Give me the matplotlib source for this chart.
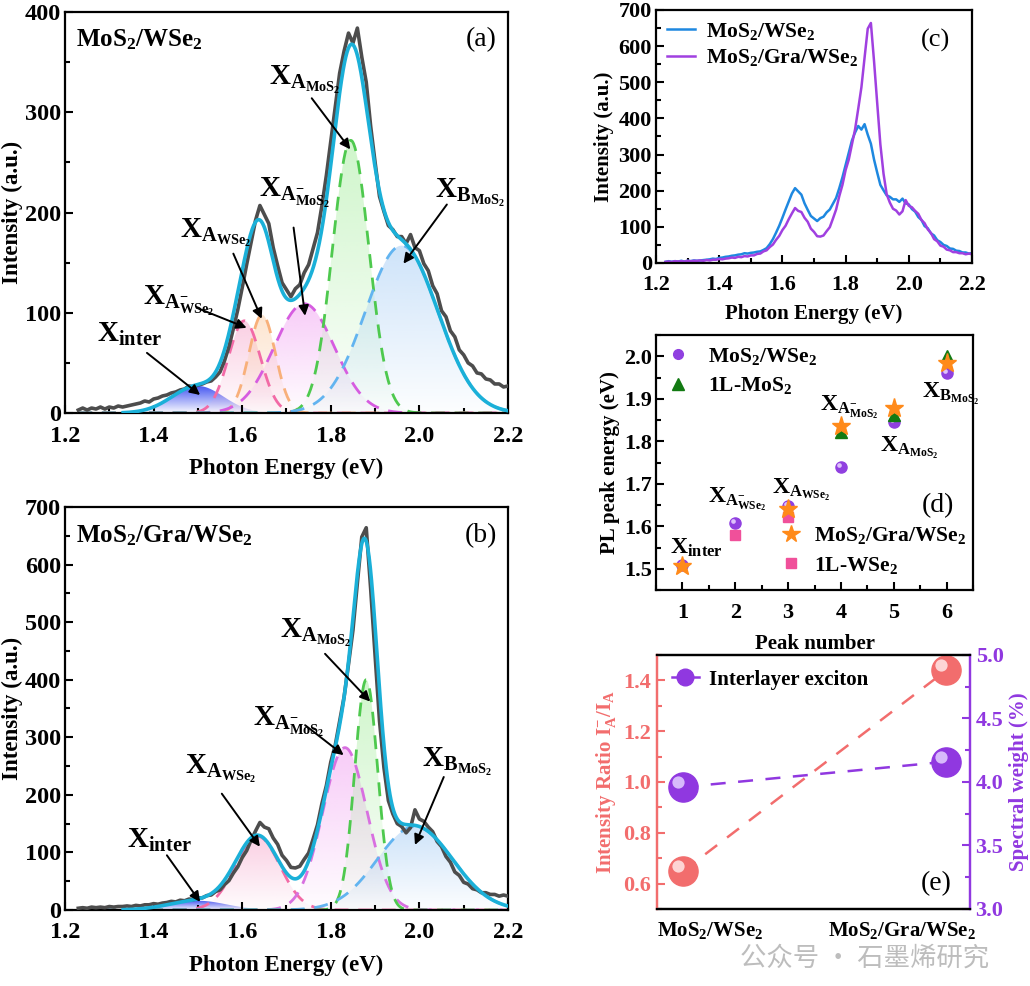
import numpy as np
import matplotlib
matplotlib.use("Agg")
import matplotlib.pyplot as plt
import matplotlib.colors as mcolors
from matplotlib.patches import Polygon
from matplotlib.lines import Line2D
from matplotlib.ticker import MultipleLocator
from matplotlib.transforms import offset_copy

plt.rcParams['font.family'] = ['Liberation Serif', 'DejaVu Serif']
plt.rcParams['font.weight'] = 'bold'
plt.rcParams['axes.labelweight'] = 'bold'
plt.rcParams['mathtext.fontset'] = 'custom'
plt.rcParams['mathtext.rm'] = 'Liberation Serif:bold'
plt.rcParams['mathtext.it'] = 'Liberation Serif:bold'
plt.rcParams['mathtext.bf'] = 'Liberation Serif:bold'

# ---- measured PL spectra (eV grid 1.23 .. 2.20, step 0.01) ----
energy = np.round(np.arange(1.23, 2.2001, 0.01), 2)
raw_mos2_wse2 = [3, 5, 3, 5, 4, 6, 4,
                 6, 5, 7, 6, 7, 8, 9, 10, 12, 11,
                 14, 15, 17, 18, 20, 21, 23, 24, 27, 26,
                 28, 29, 31, 32, 36, 41, 52, 66, 84, 103,
                 125, 148, 170, 192, 207, 198, 189, 165, 147, 130,
                 123, 116, 124, 128, 140, 148, 164, 180, 207, 237,
                 271, 305, 339, 361, 379, 369, 384, 355, 330, 286,
                 250, 216, 201, 187, 183, 176, 176, 169, 178, 165,
                 162, 149, 142, 127, 119, 102, 96, 82, 76, 63,
                 58, 50, 47, 40, 39, 34, 33, 29, 29, 26,
                 27]
raw_mos2_gra_wse2 = [3, 4, 3, 5, 4, 5, 4,
                     6, 5, 6, 6, 7, 6, 8, 7, 9, 9,
                     11, 10, 12, 13, 15, 14, 17, 16, 19, 18,
                     21, 21, 25, 26, 32, 35, 44, 51, 64, 75,
                     91, 103, 121, 137, 152, 144, 141, 125, 114, 95,
                     86, 74, 73, 76, 88, 99, 123, 148, 185, 216,
                     257, 286, 328, 370, 427, 486, 568, 648, 664, 558,
                     442, 328, 247, 190, 167, 150, 145, 134, 143, 174,
                     158, 154, 144, 136, 119, 110, 93, 83, 66, 60,
                     48, 45, 37, 35, 30, 30, 27, 27, 24, 26,
                     24]

# ---- fitted peaks: centre (eV), height (a.u.), width sigma (eV) ----
# order (a): X_inter, X_A-_WSe2, X_A_WSe2, X_A-_MoS2, X_A_MoS2, X_B_MoS2
centers_a = [1.50, 1.605, 1.645, 1.74, 1.845, 1.96]
heights_a = [27, 92, 98, 109, 272, 167]
widths_a = [0.058, 0.036, 0.030, 0.068, 0.041, 0.082]
# order (b): X_inter, X_A_WSe2, X_A-_MoS2, X_A_MoS2, X_B_MoS2
centers_b = [1.50, 1.635, 1.832, 1.880, 1.99]
heights_b = [16, 128, 282, 400, 145]
widths_b = [0.065, 0.050, 0.050, 0.026, 0.085]

# ---- (d) PL peak energies ----
peak_no_hetero = [1, 2, 3, 4, 5, 6]
pl_hetero = [1.510, 1.608, 1.648, 1.739, 1.845, 1.960]
peak_no_1l_mos2 = [4, 5, 6]
pl_1l_mos2 = [1.822, 1.862, 2.000]
peak_no_gra = [1, 3, 4, 5, 6]
pl_gra = [1.507, 1.641, 1.835, 1.878, 1.985]
peak_no_1l_wse2 = [2, 3]
pl_1l_wse2 = [1.580, 1.623]

# ---- (e) ratios ----
samples = ['MoS$_2$/WSe$_2$', 'MoS$_2$/Gra/WSe$_2$']
intensity_ratio = [0.65, 1.44]
spectral_weight = [3.96, 4.16]

lab_inter = r'X$_{\mathrm{inter}}$'
lab_am_w = r'X$_{\mathrm{A}^{-}_{\mathrm{WSe}_2}}$'
lab_a_w = r'X$_{\mathrm{A}_{\mathrm{WSe}_2}}$'
lab_am_m = r'X$_{\mathrm{A}^{-}_{\mathrm{MoS}_2}}$'
lab_a_m = r'X$_{\mathrm{A}_{\mathrm{MoS}_2}}$'
lab_b_m = r'X$_{\mathrm{B}_{\mathrm{MoS}_2}}$'


def gauss(x, c, h, w):
    return h * np.exp(-(x - c) ** 2 / (2 * w ** 2))


def style(ax, size=17):
    ax.tick_params(which='both', direction='in', top=False, right=False, width=1.5)
    ax.tick_params(which='major', length=6, labelsize=size)
    ax.tick_params(axis='x', which='major', pad=9)
    ax.tick_params(axis='y', which='major', pad=3)
    ax.tick_params(which='minor', length=3.5)
    for s in ax.spines.values():
        s.set_linewidth(1.6)


def grad_fill(ax, x, y, color, a_top=0.6):
    img = np.zeros((120, 1, 4))
    img[:, :, :3] = mcolors.to_rgb(color)
    img[:, 0, 3] = np.linspace(0.03, a_top, 120)
    im = ax.imshow(img, aspect='auto', origin='lower', interpolation='bilinear',
                   extent=[x.min(), x.max(), 0, y.max()], zorder=1)
    verts = np.column_stack([np.r_[x, x[::-1]], np.r_[y, np.zeros_like(y)]])
    patch = Polygon(verts, closed=True, fc='none', ec='none', transform=ax.transData)
    ax.add_patch(patch)
    im.set_clip_path(patch)


def sphere(ax, x, y, base, light, ms, z=5):
    ax.plot(x, y, ls='none', marker='o', ms=ms, mfc=base, mec=base, zorder=z)
    tr = offset_copy(ax.transData, fig=ax.figure, x=-ms * 0.17, y=ms * 0.17, units='points')
    ax.plot(x, y, ls='none', marker='o', ms=ms * 0.42, mfc=light, mec='none',
            alpha=0.9, transform=tr, zorder=z + 0.1)


def arrow(ax, tail, tip):
    ax.annotate('', xy=tip, xytext=tail,
                arrowprops=dict(arrowstyle='-|>', color='k', lw=1.4,
                                mutation_scale=15, shrinkA=0, shrinkB=0), zorder=6)


def spectrum_panel(ax, raw, centers, heights, widths, fills, lines, ymax, title, tag):
    xf = np.linspace(1.23, 2.2, 700)
    total = np.zeros_like(xf)
    for c, h, w, fc, lc in zip(centers, heights, widths, fills, lines):
        yc = gauss(xf, c, h, w)
        total += yc
        grad_fill(ax, xf, yc, fc, a_top=1.0 if lc is None else 0.55)
        if lc is not None:
            ax.plot(xf, yc, color=lc, lw=2, dashes=(5, 3.5), zorder=2)
    ax.plot(energy, raw, color='#4d4d4d', lw=2.6, zorder=3)
    m = xf >= 1.33
    ax.plot(xf[m], total[m], color='#1bb0d8', lw=2.6, zorder=4)
    ax.set_xlim(1.2, 2.2)
    ax.set_ylim(0, ymax)
    ax.xaxis.set_major_locator(MultipleLocator(0.2))
    ax.xaxis.set_minor_locator(MultipleLocator(0.1))
    ax.yaxis.set_major_locator(MultipleLocator(100))
    ax.yaxis.set_minor_locator(MultipleLocator(50))
    ax.xaxis.set_major_formatter(plt.FormatStrFormatter('%.1f'))
    ax.set_xlabel('Photon Energy (eV)', fontsize=16.5, labelpad=8)
    ax.set_ylabel('Intensity (a.u.)', fontsize=16.5, labelpad=1)
    ax.text(0.025, 0.93, title, transform=ax.transAxes, fontsize=18, va='center')
    ax.text(0.975, 0.93, tag, transform=ax.transAxes, fontsize=20, va='center',
            ha='right', fontweight='normal')
    style(ax, 17.5)


fig = plt.figure(figsize=(10.3, 9.86), dpi=100)

# ---------- (a) ----------
ax_a = fig.add_axes([0.0631, 0.5811, 0.4301, 0.4067])
spectrum_panel(ax_a, raw_mos2_wse2, centers_a, heights_a, widths_a,
               ['#4052f2', '#f7a8cc', '#fbcfa8', '#f2a2f2', '#a8eea0', '#a6cdf5'],
               [None, '#f26aa6', '#f8b07a', '#d65ce0', '#4ec94e', '#62b4f0'],
               400, 'MoS$_2$/WSe$_2$', '(a)')
for lab, txt, tail, tip in [(lab_inter, (1.272, 78), (1.385, 60), (1.505, 18)),
                            (lab_am_w, (1.377, 112), (1.497, 105), (1.61, 85)),
                            (lab_a_w, (1.46, 180), (1.58, 159), (1.644, 94)),
                            (lab_am_m, (1.637, 220), (1.716, 185), (1.742, 97)),
                            (lab_a_m, (1.66, 332), (1.757, 314), (1.844, 263)),
                            (lab_b_m, (2.036, 220), (2.062, 208), (1.964, 149))]:
    ax_a.text(txt[0], txt[1], lab, fontsize=21, va='center', zorder=6)
    arrow(ax_a, tail, tip)

# ---------- (b) ----------
ax_b = fig.add_axes([0.0631, 0.0771, 0.4301, 0.4087])
spectrum_panel(ax_b, raw_mos2_gra_wse2, centers_b, heights_b, widths_b,
               ['#4052f2', '#f7a8cc', '#f2a2f2', '#a8eea0', '#a6cdf5'],
               [None, '#f26aa6', '#d870e0', '#4ec94e', '#62b4f0'],
               700, 'MoS$_2$/Gra/WSe$_2$', '(b)')
for lab, txt, tail, tip in [(lab_inter, (1.339, 121), (1.43, 95), (1.505, 14)),
                            (lab_a_w, (1.471, 245), (1.554, 202), (1.64, 110)),
                            (lab_am_m, (1.625, 326), (1.742, 321), (1.829, 269)),
                            (lab_a_m, (1.686, 482), (1.787, 445), (1.889, 362)),
                            (lab_b_m, (2.006, 257), (2.055, 231), (1.99, 113))]:
    ax_b.text(txt[0], txt[1], lab, fontsize=21, va='center', zorder=6)
    arrow(ax_b, tail, tip)

# ---------- (c) ----------
ax_c = fig.add_axes([0.6369, 0.7333, 0.3068, 0.2566])
ax_c.plot(energy, raw_mos2_wse2, color='#1e88e0', lw=1.8, label='MoS$_2$/WSe$_2$')
ax_c.plot(energy, raw_mos2_gra_wse2, color='#a040e0', lw=1.8, label='MoS$_2$/Gra/WSe$_2$')
ax_c.set_xlim(1.2, 2.2)
ax_c.set_ylim(0, 700)
ax_c.xaxis.set_major_locator(MultipleLocator(0.2))
ax_c.xaxis.set_minor_locator(MultipleLocator(0.1))
ax_c.yaxis.set_major_locator(MultipleLocator(100))
ax_c.yaxis.set_minor_locator(MultipleLocator(50))
ax_c.xaxis.set_major_formatter(plt.FormatStrFormatter('%.1f'))
ax_c.set_xlabel('Photon Energy (eV)', fontsize=15, labelpad=6)
ax_c.set_ylabel('Intensity (a.u.)', fontsize=15, labelpad=3)
ax_c.legend(loc='upper left', frameon=False, fontsize=15.5, handlelength=1.3,
            handletextpad=0.5, borderaxespad=0.1, labelspacing=0.25)
ax_c.text(0.93, 0.88, '(c)', transform=ax_c.transAxes, fontsize=19, ha='right',
          va='center', fontweight='normal')
style(ax_c, 16)

# ---------- (d) ----------
ax_d = fig.add_axes([0.6369, 0.4016, 0.3078, 0.2586])
sphere(ax_d, peak_no_hetero, pl_hetero, '#9040e0', '#e6d0ff', 8, z=3)
ax_d.plot(peak_no_1l_mos2, pl_1l_mos2, ls='none', marker='^', ms=8, color='#127a12', zorder=4)
ax_d.plot(peak_no_gra, pl_gra, ls='none', marker='*', ms=14, color='#ff8a1a', zorder=5)
ax_d.plot(peak_no_1l_wse2, pl_1l_wse2, ls='none', marker='s', ms=6.5, color='#f0509a', zorder=4)
ax_d.set_xlim(0.5, 6.5)
ax_d.set_ylim(1.45, 2.05)
ax_d.xaxis.set_major_locator(MultipleLocator(1))
ax_d.xaxis.set_minor_locator(MultipleLocator(0.5))
ax_d.yaxis.set_major_locator(MultipleLocator(0.1))
ax_d.yaxis.set_minor_locator(MultipleLocator(0.05))
ax_d.yaxis.set_major_formatter(plt.FormatStrFormatter('%.1f'))
ax_d.set_xlabel('Peak number', fontsize=15, labelpad=8)
ax_d.set_ylabel('PL peak energy (eV)', fontsize=15, labelpad=3)
for lab, pos in [(lab_inter, (0.77, 1.55)), (lab_am_w, (1.49, 1.665)),
                 (lab_a_w, (2.69, 1.685)), (lab_am_m, (3.60, 1.88)),
                 (lab_a_m, (4.74, 1.785)), (lab_b_m, (5.53, 1.912))]:
    ax_d.text(pos[0], pos[1], lab, fontsize=17, va='center')
ax_d.text(0.94, 0.33, '(d)', transform=ax_d.transAxes, fontsize=20, ha='right',
          va='center', fontweight='normal')
h1 = [Line2D([], [], ls='none', marker='o', ms=7, color='#9040e0'),
      Line2D([], [], ls='none', marker='^', ms=8, color='#127a12')]
leg1 = ax_d.legend(h1, ['MoS$_2$/WSe$_2$', '1L-MoS$_2$'], loc='upper left', frameon=False,
                   fontsize=15.5, handlelength=1.0, handletextpad=0.9, borderaxespad=0.1,
                   labelspacing=0.4)
ax_d.add_artist(leg1)
h2 = [Line2D([], [], ls='none', marker='*', ms=13, color='#ff8a1a'),
      Line2D([], [], ls='none', marker='s', ms=6.5, color='#f0509a')]
ax_d.legend(h2, ['MoS$_2$/Gra/WSe$_2$', '1L-WSe$_2$'], loc='lower left',
            bbox_to_anchor=(0.33, -0.02), frameon=False, fontsize=15.5, handlelength=1.0,
            handletextpad=0.6, labelspacing=0.4)
style(ax_d, 16)

# ---------- (e) ----------
red = '#f26d6d'
purple = '#9038e0'
ax_e = fig.add_axes([0.6379, 0.0781, 0.3039, 0.2576])
ax_e2 = ax_e.twinx()
xpos = np.arange(len(samples))
ax_e.plot(xpos, intensity_ratio, color=red, lw=1.8, dashes=(6, 5), zorder=2)
sphere(ax_e, xpos, intensity_ratio, red, '#ffe0e0', 21, z=3)
ax_e2.plot(xpos, spectral_weight, color=purple, lw=1.8, dashes=(6, 5), zorder=2)
sphere(ax_e2, xpos, spectral_weight, purple, '#e0c8ff', 21, z=3)
ax_e.set_xlim(-0.1, 1.09)
ax_e.set_ylim(0.5, 1.5)
ax_e2.set_ylim(3.0, 5.0)
ax_e.set_xticks([])
ax_e.yaxis.set_major_locator(MultipleLocator(0.2))
ax_e.yaxis.set_minor_locator(MultipleLocator(0.1))
ax_e2.yaxis.set_major_locator(MultipleLocator(0.5))
ax_e2.yaxis.set_minor_locator(MultipleLocator(0.25))
ax_e.yaxis.set_major_formatter(plt.FormatStrFormatter('%.1f'))
ax_e2.yaxis.set_major_formatter(plt.FormatStrFormatter('%.1f'))
for a in (ax_e, ax_e2):
    a.tick_params(which='both', direction='in', width=1.5)
    a.tick_params(which='major', length=6, labelsize=16, pad=4)
    a.tick_params(which='minor', length=3.5)
    for s in a.spines.values():
        s.set_linewidth(1.6)
ax_e.tick_params(axis='y', which='both', colors=red)
ax_e2.tick_params(axis='y', which='both', colors=purple)
ax_e2.spines['left'].set_color(red)
ax_e2.spines['right'].set_color(purple)
ax_e.spines['left'].set_color(red)
ax_e.spines['right'].set_color(purple)
ax_e.set_ylabel('Intensity Ratio I$_{\\mathrm{A}}^{-}$/I$_{\\mathrm{A}}$', color=red, fontsize=15)
ax_e2.set_ylabel('Spectral weight (%)', color=purple, fontsize=15)
ax_e.text(0.0, -0.085, samples[0], transform=ax_e.transAxes, fontsize=15, ha='left', va='center')
ax_e.text(1.02, -0.085, samples[1], transform=ax_e.transAxes, fontsize=15, ha='right', va='center')
ax_e.text(0.94, 0.1, '(e)', transform=ax_e.transAxes, fontsize=20, ha='right',
          va='center', fontweight='normal')
h3 = [Line2D([], [], color=purple, lw=1.8, marker='o', ms=12, mfc=purple)]
ax_e2.legend(h3, ['Interlayer exciton'], loc='upper left', frameon=False, fontsize=15,
             handlelength=1.3, handletextpad=0.5, borderaxespad=0.3)

fig.text(0.718, 0.028, '公众号 · 石墨烯研究', family=['Noto Sans CJK SC', 'DejaVu Sans'],
         fontsize=19, color='#bdbdbd', fontweight='normal', va='center')

fig.savefig('out.png', dpi=100)
